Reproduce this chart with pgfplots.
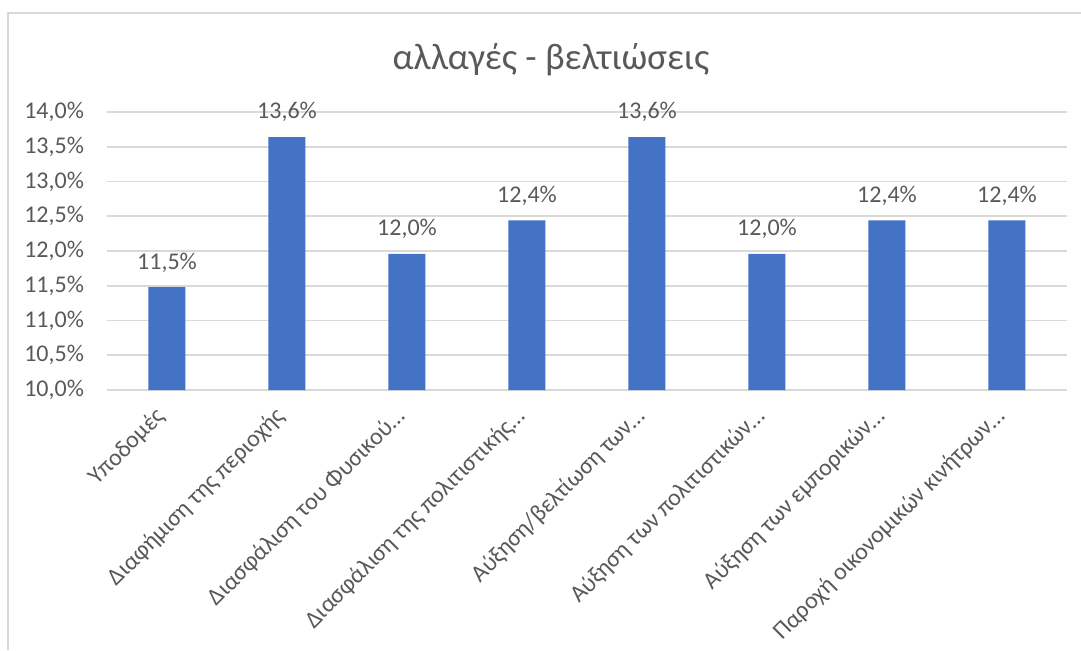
\documentclass[border=0pt]{standalone}
\usepackage{pgfplots}
\pgfplotsset{compat=1.18}
\usepackage{fontspec}
\setmainfont{Carlito}
\definecolor{barblue}{HTML}{4472C4}
\definecolor{txtgray}{HTML}{595959}
\definecolor{gridgray}{HTML}{D9D9D9}
\begin{document}
\begin{tikzpicture}
% 1 px of the reference = 0.5pt, axis lower left at px (107,390)
\useasboundingbox (-53.5pt,-130pt) rectangle (487pt,195pt);
\draw[gridgray, line width=1pt] (-49.5pt,-130pt) -- (-49.5pt,188.5pt) -- (487pt,188.5pt);
\node[txtgray, font=\fontsize{18.5}{22}\selectfont] at (222pt,165pt) {αλλαγές - βελτιώσεις};
\begin{axis}[
    at={(0,0)}, anchor=south west,
    scale only axis,
    width=480pt, height=139pt,
    xmin=-0.5, xmax=7.5,
    ymin=10, ymax=14,
    ytick={10,10.5,...,14},
    xtick={0,...,7},
    xticklabels={Υποδομές, Διαφήμιση της περιοχής, Διασφάλιση του Φυσικού…, Διασφάλιση της πολιτιστικής…, Αύξηση/βελτίωση των…, Αύξηση των πολιτιστικών…, Αύξηση των εμπορικών…, Παροχή οικονομικών κινήτρων…},
    x tick label style={xshift=-6.5pt, yshift=-6pt, rotate=45, anchor=north east, font=\fontsize{12}{14}\selectfont, text=txtgray, inner sep=1pt},
    yticklabel={\pgfmathprintnumber[fixed,fixed zerofill,precision=1,use comma]{\tick}\%},
    y tick label style={font=\fontsize{12}{14}\selectfont, text=txtgray, xshift=-8pt},
    /pgf/number format/assume math mode=true,
    major tick length=0pt,
    ymajorgrids,
    grid style={gridgray, line width=0.8pt},
    axis line style={draw=none},
    axis x line*=bottom,
    ybar, bar width=18.5pt,
    nodes near coords={\pgfmathprintnumber[fixed,fixed zerofill,precision=1,use comma]{\pgfplotspointmeta}\%},
    nodes near coords style={font=\fontsize{12}{14}\selectfont, text=txtgray, yshift=4pt},
    clip=false,
]
\addplot[fill=barblue, draw=none] coordinates {
    (0,11.48) (1,13.64) (2,11.96) (3,12.44) (4,13.64) (5,11.96) (6,12.44) (7,12.44)
};
\end{axis}
\end{tikzpicture}
\end{document}
